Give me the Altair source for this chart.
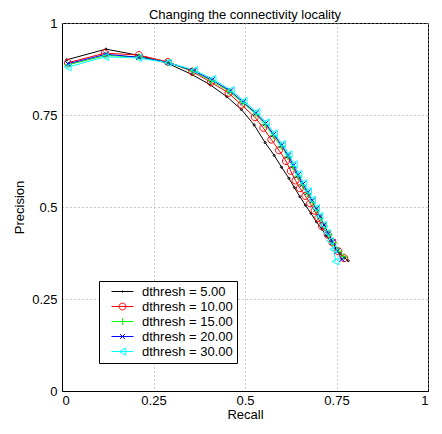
import altair as alt
import pandas as pd

series_names = ["dthresh = 5.00", "dthresh = 10.00", "dthresh = 15.00",
                "dthresh = 20.00", "dthresh = 30.00"]
series_colors = ["#000000", "#ff0000", "#00ff00", "#0000ff", "#00ffff"]

x5 = [0.013, 0.12, 0.21, 0.29, 0.355, 0.405, 0.45, 0.49, 0.525, 0.555, 0.58, 0.60, 0.62,
      0.635, 0.65, 0.665, 0.68, 0.695, 0.71, 0.722, 0.735, 0.748, 0.76, 0.772, 0.782]
y5 = [0.90, 0.929, 0.912, 0.89, 0.86, 0.832, 0.80, 0.765, 0.723, 0.675, 0.64, 0.608, 0.578,
      0.553, 0.528, 0.505, 0.483, 0.46, 0.44, 0.422, 0.405, 0.388, 0.373, 0.362, 0.354]

x10 = [0.016, 0.117, 0.21, 0.29, 0.356, 0.407, 0.455, 0.49, 0.527, 0.55, 0.572, 0.593, 0.612,
       0.625, 0.638, 0.65, 0.665, 0.678, 0.69, 0.70, 0.71, 0.726, 0.739, 0.755, 0.771]
y10 = [0.892, 0.918, 0.913, 0.894, 0.868, 0.839, 0.81, 0.778, 0.744, 0.715, 0.683, 0.654, 0.625,
       0.598, 0.572, 0.551, 0.53, 0.51, 0.49, 0.47, 0.448, 0.425, 0.404, 0.38, 0.361]

x15 = [0.016, 0.12, 0.21, 0.29, 0.358, 0.408, 0.458, 0.494, 0.53, 0.555, 0.577, 0.599, 0.617,
       0.631, 0.644, 0.657, 0.671, 0.684, 0.695, 0.706, 0.717, 0.73, 0.742, 0.756, 0.77]
y15 = [0.886, 0.912, 0.907, 0.893, 0.869, 0.843, 0.813, 0.783, 0.752, 0.724, 0.694, 0.665, 0.637,
       0.61, 0.584, 0.559, 0.536, 0.513, 0.492, 0.47, 0.448, 0.425, 0.403, 0.38, 0.365]

x20 = [0.016, 0.12, 0.21, 0.29, 0.36, 0.41, 0.46, 0.495, 0.53, 0.556, 0.578, 0.60, 0.618,
       0.632, 0.645, 0.658, 0.672, 0.684, 0.695, 0.705, 0.716, 0.728, 0.74, 0.752, 0.765]
y20 = [0.889, 0.915, 0.907, 0.893, 0.87, 0.845, 0.815, 0.785, 0.755, 0.727, 0.697, 0.668, 0.64,
       0.613, 0.587, 0.562, 0.54, 0.518, 0.495, 0.474, 0.451, 0.428, 0.405, 0.38, 0.358]

x30 = [0.016, 0.118, 0.21, 0.29, 0.362, 0.412, 0.462, 0.497, 0.532, 0.558, 0.58, 0.602, 0.62,
       0.634, 0.647, 0.66, 0.673, 0.684, 0.695, 0.704, 0.714, 0.724, 0.733, 0.742, 0.748]
y30 = [0.88, 0.908, 0.905, 0.892, 0.872, 0.848, 0.818, 0.788, 0.758, 0.73, 0.70, 0.671, 0.643,
       0.616, 0.59, 0.565, 0.543, 0.52, 0.497, 0.475, 0.452, 0.43, 0.408, 0.385, 0.352]

axis_ticks = [0, 0.25, 0.5, 0.75, 1]

xs = [x5, x10, x15, x20, x30]
ys = [y5, y10, y15, y20, y30]
rows = []
for name, xl, yl in zip(series_names, xs, ys):
    for i, (a, b) in enumerate(zip(xl, yl)):
        rows.append({"series": name, "recall": a, "precision": b, "idx": i})
df = pd.DataFrame(rows)

# marker shapes (unit paths)
marker_paths = [
    "M-0.3,0A0.3,0.3 0 1,0 0.3,0A0.3,0.3 0 1,0 -0.3,0",
    "M-1,0A1,1 0 1,0 1,0A1,1 0 1,0 -1,0",
    "M-1,0L1,0M0,-1L0,1",
    "M-0.8,-0.8L0.8,0.8M-0.8,0.8L0.8,-0.8",
    "M-1,0L0.9,-1L0.9,1Z",
]
# legend symbols: line sample + marker (unit = 4px, symbol size 64)
legend_paths = [
    "M0.5,0L6,0M3.1,0A0.15,0.15 0 1,0 3.4,0A0.15,0.15 0 1,0 3.1,0",
    "M0.5,0L6,0M2.4,0A0.85,0.85 0 1,0 4.1,0A0.85,0.85 0 1,0 2.4,0",
    "M0.5,0L6,0M3.25,-0.85L3.25,0.85",
    "M0.5,0L6,0M2.65,-0.6L3.85,0.6M2.65,0.6L3.85,-0.6",
    "M0.5,0L6,0M2.45,0L4.05,-0.9L4.05,0.9Z",
]

FONT = "Liberation Sans"
W, H = 366, 368

xscale = alt.Scale(domain=[0, 1], nice=False, zero=False)
yscale = alt.Scale(domain=[0, 1], nice=False, zero=False)
xaxis = alt.Axis(values=axis_ticks, format=".2~f", title="Recall", grid=True,
                 ticks=False, labelPadding=3, titlePadding=1)
yaxis = alt.Axis(values=axis_ticks, format=".2~f", title="Precision", grid=True,
                 ticks=False, labelPadding=5, titlePadding=5)
cscale = alt.Scale(domain=series_names, range=series_colors)

base = alt.Chart(df)

lines = base.mark_line(strokeWidth=1).encode(
    x=alt.X("recall:Q", scale=xscale, axis=xaxis),
    y=alt.Y("precision:Q", scale=yscale, axis=yaxis),
    color=alt.Color("series:N", scale=cscale, legend=None),
    order="idx:Q",
)

points = base.mark_point(filled=False, strokeWidth=1, size=49, opacity=1).encode(
    x="recall:Q",
    y="precision:Q",
    color=alt.Color("series:N", scale=cscale, legend=None),
    shape=alt.Shape("series:N", scale=alt.Scale(domain=series_names, range=marker_paths),
                    legend=None),
)

leg = alt.Legend(title=None, orient="none", legendX=37, legendY=258,
                 symbolOpacity=1, symbolStrokeWidth=1,
                 symbolSize=64, symbolFillColor="transparent")

legend_layer = base.mark_point(filled=False, opacity=0).encode(
    x="recall:Q",
    y="precision:Q",
    color=alt.Color("series:N", scale=cscale, legend=leg),
    shape=alt.Shape("series:N", scale=alt.Scale(domain=series_names, range=legend_paths),
                    legend=leg),
)

chart = alt.layer(lines, points, legend_layer).resolve_scale(
    color="independent", shape="independent"
).properties(
    width=W, height=H,
    title=alt.TitleParams("Changing the connectivity locality", fontSize=13,
                          fontWeight="normal", font=FONT, offset=-5),
    autosize=alt.AutoSizeParams(type="none"),
    padding={"left": 54, "top": 15, "right": 6, "bottom": 29},
).configure_view(
    stroke="black", strokeWidth=1
).configure_axis(
    labelFont=FONT, labelFontSize=13, labelColor="black",
    titleFont=FONT, titleFontSize=13, titleFontWeight="normal", titleColor="black",
    domainColor="black", gridColor="#999999", gridDash=[1, 3], gridWidth=1,
).configure_legend(
    labelFont=FONT, labelFontSize=13, labelColor="black",
    strokeColor="black", fillColor="white", padding=4, rowPadding=1,
    labelOffset=26, cornerRadius=0,
)

chart.save("out.html", embed_options={"renderer": "svg", "actions": False})
